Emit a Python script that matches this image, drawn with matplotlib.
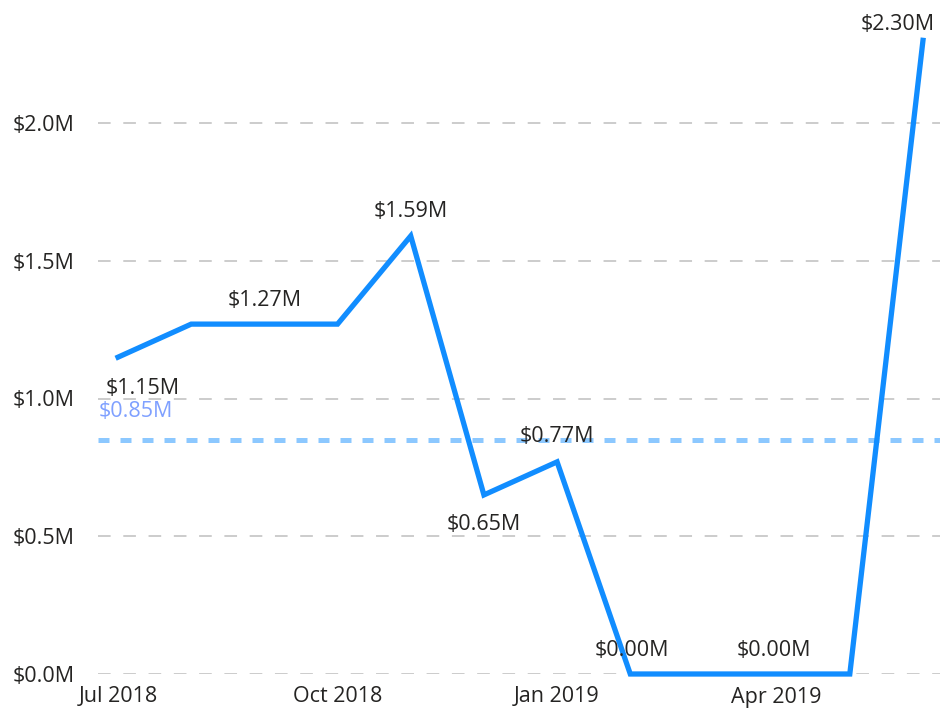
import matplotlib
matplotlib.use("Agg")
import matplotlib.pyplot as plt

months = ["Jul 2018", "Aug 2018", "Sep 2018", "Oct 2018", "Nov 2018", "Dec 2018",
          "Jan 2019", "Feb 2019", "Mar 2019", "Apr 2019", "May 2019", "Jun 2019"]
values = [1.15, 1.27, 1.27, 1.27, 1.59, 0.65, 0.77, 0.00, 0.00, 0.00, 0.00, 2.30]
average = 0.85
yticks = [0.0, 0.5, 1.0, 1.5, 2.0]
xtick_idx = [0, 3, 6, 9]
# which points get a data label, and pixel offsets (dx, dy)
label_points = {0: (25, -31), 2: (0, 24), 4: (0, 24), 5: (0, -30), 6: (0, 25),
                7: (2, 24), 9: (-3, 24), 11: (-25, 16)}

plt.rcParams['font.family'] = ['Open Sans', 'DejaVu Sans']
FS = 15.5

fig = plt.figure(figsize=(9.4, 7.13), dpi=100)
ax = fig.add_axes([98/940, 39/713, 842/940, 674/713])

x = list(range(len(months)))
ax.plot(x, values, color="#118DFF", lw=3.8, solid_joinstyle='miter', zorder=3,
        clip_on=False)
ax.axhline(average, color="#8CC8FF", lw=3.6, ls=(0, (2.2, 2.2)), zorder=2)

for yv in yticks:
    ax.axhline(yv, color="#C8C8C8", lw=1.3, ls=(0, (7, 7)), zorder=1)

ax.set_xlim(-20/73.1, 11 + 17/73.1)
ax.set_ylim(0, 674/275.5)

for i, (dx, dy) in label_points.items():
    ax.annotate(f"${values[i]:.2f}M", xy=(i, values[i]), xytext=(dx, dy),
                textcoords='offset pixels', ha='center', va='center',
                fontsize=FS, color="#252423", zorder=4)

ax.annotate(f"${average:.2f}M", xy=(-20/73.1, average), xytext=(1, 28),
            textcoords='offset pixels', ha='left', va='center',
            fontsize=FS, color="#7FA0FF", zorder=4)

ax.set_yticks(yticks)
ax.set_yticklabels([f"${v:.1f}M" for v in yticks])
ax.set_xticks(xtick_idx)
ax.set_xticklabels([months[i] for i in xtick_idx])
ax.tick_params(axis='both', length=0, labelsize=FS, colors="#252423")
ax.tick_params(axis='x', pad=9)
for lab in ax.get_yticklabels():
    lab.set_horizontalalignment('left')
ax.yaxis.set_tick_params(pad=85 * 0.72)
for s in ax.spines.values():
    s.set_visible(False)

fig.savefig("out.png", dpi=100)
